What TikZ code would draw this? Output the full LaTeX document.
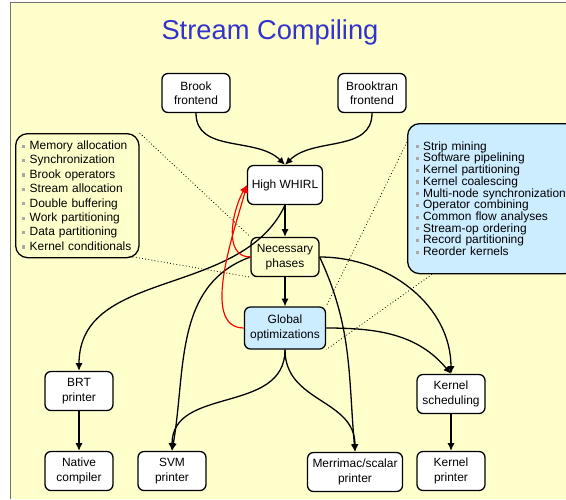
\documentclass[tikz,border=0pt]{standalone}
\usepackage{fontspec}
\setmainfont{Liberation Sans}
\usepackage{xcolor}
\usepackage{tikz}
\usetikzlibrary{arrows.meta, positioning}
\definecolor{slideyellow}{HTML}{FFFFCC}
\definecolor{slideblue}{HTML}{CCECFF}
\definecolor{titleblue}{HTML}{3333CC}
\definecolor{framegray}{HTML}{707070}
\definecolor{bulletgray}{HTML}{A8A8A8}
\newcommand{\sbul}{\textcolor{bulletgray}{\raisebox{0.28ex}{\rule{0.26em}{0.26em}}}\hspace{0.36em}}
\tikzset{
    slide/.style={font=\fontsize{10.2}{12.3}\selectfont},
    slide box/.style={rounded corners=0.18cm, draw, line width=1.1pt, fill=white,
        align=center, inner sep=1pt, minimum width=2.04cm, minimum height=1.17cm},
    slide arrow/.style={-{Latex[length=6.5pt,width=6pt]}, line width=1.1pt},
    slide note/.style={rounded corners=0.36cm, draw, line width=1.1pt, align=left,
        anchor=north west},
    slide pointer/.style={dotted, line width=0.7pt},
}
\begin{document}
\begin{tikzpicture}[
    x=0.03cm, y=-0.03cm,
    slide,
    stage/.style={slide box},
    hilite/.style={fill=slideblue},
    feedback/.style={-{Latex[length=6.5pt,width=6pt]}, line width=1pt, red}
  ]
    \useasboundingbox (0,0) rectangle (566,499);
    \clip (0,0) rectangle (566,499);
    \fill[slideyellow] (10,2) rectangle (566,499);
    \draw[framegray, line width=1.2pt] (566,2.5) -- (10.5,2.5) -- (10.5,499);

    \node[text=titleblue, font=\fontsize{23.3}{28}\selectfont] (title) at (270,32) {Stream Compiling};

    % side lists
    \node[slide note, fill=slideyellow, text width=3.3cm, inner xsep=0.2cm,
        minimum height=3.72cm] (memlist) at (15,133)
        {\sbul Memory allocation\\\sbul Synchronization\\\sbul Brook operators\\
         \sbul Stream allocation\\\sbul Double buffering\\\sbul Work partitioning\\
         \sbul Data partitioning\\\sbul Kernel conditionals};
    \node[slide note, hilite, text width=4.6cm, inner xsep=0.24cm, minimum height=4.5cm,
        font=\fontsize{10.2}{10}\selectfont] (optlist) at (407,123)
        {\sbul Strip mining\\\sbul Software pipelining\\\sbul Kernel partitioning\\
         \sbul Kernel coalescing\\\sbul Multi-node synchronization\\\sbul Operator combining\\
         \sbul Common flow analyses\\\sbul Stream-op ordering\\\sbul Record partitioning\\
         \sbul Reorder kernels};

    % compiler stages
    \node[stage] (brook) at (196,93) {Brook\\frontend};
    \node[stage] (brooktran) at (372,93) {Brooktran\\frontend};
    \node[stage, minimum width=2.25cm] (whirl) at (285,185) {High WHIRL};
    \node[stage, fill=slideyellow] (necessary) at (285,257) {Necessary\\phases};
    \node[stage, hilite, minimum width=2.43cm, minimum height=1.26cm] (global) at (285,328) {Global\\optimizations};
    \node[stage] (brt) at (79,391) {BRT\\printer};
    \node[stage] (native) at (79,471) {Native\\compiler};
    \node[stage] (svm) at (172,471) {SVM\\printer};
    \node[stage, minimum width=2.85cm] (merrimac) at (355,472) {Merrimac/scalar\\printer};
    \node[stage] (ksched) at (451,394) {Kernel\\scheduling};
    \node[stage] (kprint) at (451,471) {Kernel\\printer};

    \draw[slide pointer] (memlist.north east) -- (necessary.north west);
    \draw[slide pointer] ([xshift=-0.3cm,yshift=0.06cm]memlist.south east) -- (necessary.south west);
    \draw[slide pointer] ([yshift=-0.57cm]optlist.north west) -- (global.north east);
    \draw[slide pointer] ([xshift=0.75cm]optlist.south west) -- (global.south east);

    \draw[slide arrow] (brook.south) to[out=-90, in=135] (whirl.north);
    \draw[slide arrow] (brooktran.south) to[out=-90, in=45] (whirl.north);
    \draw[slide arrow] (whirl.south) -- (necessary.north);
    \draw[slide arrow] (necessary.south) -- (global.north);
    \draw[slide arrow] (whirl.south) to[out=-115, in=90] (brt.north);
    \draw[slide arrow] (necessary.west) to[out=200, in=80] (svm.north);
    \draw[slide arrow] (global.south) to[out=-90, in=90, looseness=1.1] (svm.north);
    \draw[slide arrow] (global.south) to[out=-90, in=90, looseness=1.1] (merrimac.north);
    \draw[slide arrow] (necessary.east) to[out=-65, in=95] (merrimac.north);
    \draw[slide arrow] (necessary.east) to[out=0, in=90] (ksched.north);
    \draw[slide arrow] (global.east) to[out=0, in=130] (ksched.north);
    \draw[slide arrow] (brt) -- (native);
    \draw[slide arrow] (ksched) -- (kprint);

    \draw[feedback] (necessary.west) to[out=180, in=-120] (whirl.west);
    \draw[feedback] (global.west) to[out=180, in=-105, looseness=0.8] (whirl.west);
  \end{tikzpicture}
\end{document}
